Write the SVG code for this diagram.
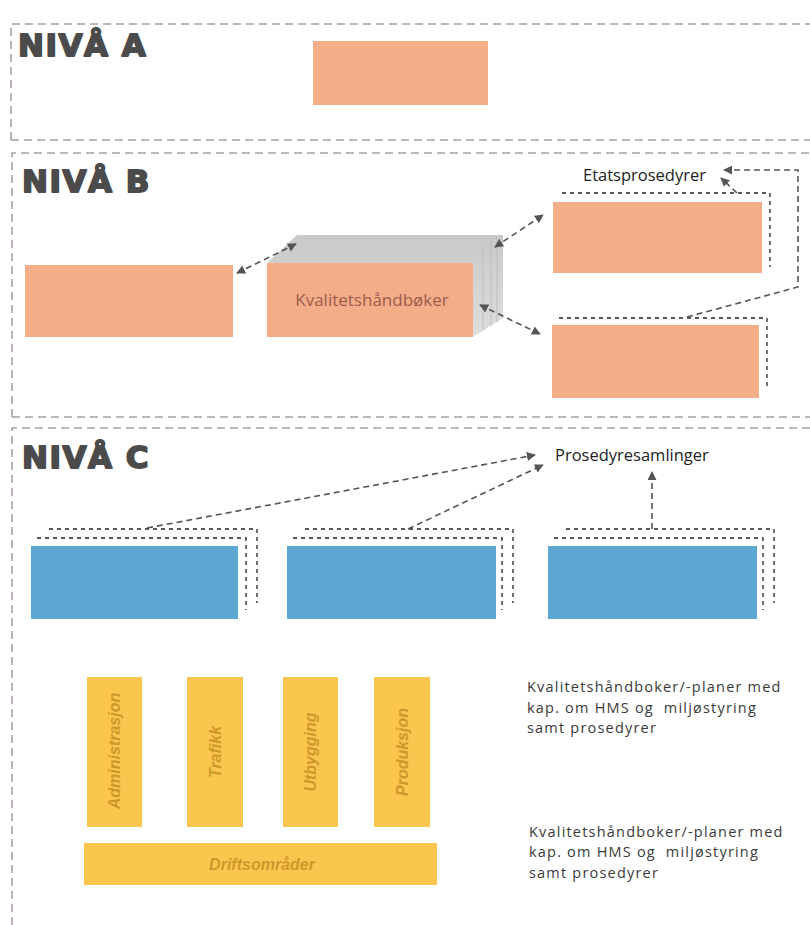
<svg xmlns="http://www.w3.org/2000/svg" width="810" height="925" viewBox="0 0 810 925">
<style>
.panel{fill:none;stroke:#ab9ea1;stroke-width:1.6;stroke-dasharray:8 5}
.lvl{font-family:"DejaVu Sans",sans-serif;font-weight:bold;font-size:31px;letter-spacing:1.5px;fill:#4b4b4b;stroke:#4b4b4b;stroke-width:1.8;stroke-linejoin:round}
.orange{fill:#f4ad89}
.blue{fill:#5da7d3}
.yellow{fill:#fbc64e}
.dot{fill:none;stroke:#222;stroke-width:1.3;stroke-dasharray:4 4}
.con{fill:none;stroke:#555;stroke-width:1.6;stroke-dasharray:6 4}
.lbl{font-family:"Open Sans",sans-serif;fill:#222}
.ytxt{font-family:"Liberation Sans",sans-serif;font-weight:bold;font-style:italic;font-size:16px;fill:#cd982a}
.desc{font-family:"Open Sans",sans-serif;font-size:14.5px;letter-spacing:1.2px;fill:#3a3a3a;white-space:pre}
</style>
<defs>
<marker id="ah" viewBox="0 0 10 10" refX="9" refY="5" markerWidth="9" markerHeight="9" markerUnits="userSpaceOnUse" orient="auto-start-reverse">
<path d="M0,0 L10,5 L0,10 z" fill="#555"/>
</marker>
<linearGradient id="gray" x1="0" y1="0" x2="0" y2="1">
<stop offset="0" stop-color="#c9c9c9"/>
<stop offset="1" stop-color="#dedede"/>
</linearGradient>
</defs>
<rect width="810" height="925" fill="#fff"/>

<g id="panels">
<path class="panel" d="M11,140 L11,24 L810,24"/>
<path class="panel" d="M11,140 L810,140"/>
<path class="panel" d="M12,417 L12,153 L810,153"/>
<path class="panel" d="M12,417 L810,417"/>
<path class="panel" d="M12,925 L12,428 L810,428"/>
</g>

<g id="levelA">
<text class="lvl" x="18" y="56">NIVÅ A</text>
<rect id="boxA" class="orange" x="313" y="41" width="175" height="64"/>
</g>

<g id="levelB">
<text class="lvl" x="22" y="192">NIVÅ B</text>
<g id="boxB-left"><rect class="orange" x="25" y="265" width="208" height="72"/></g>
<g id="kvalitetshandboker">
<polygon points="267,263 297,235 503,235 503,318 473,337" fill="url(#gray)"/>
<line x1="483" y1="245" x2="483" y2="330" stroke="#bdbdbd" stroke-width="1"/>
<line x1="491" y1="240" x2="491" y2="326" stroke="#bdbdbd" stroke-width="1"/>
<line x1="497" y1="237" x2="497" y2="322" stroke="#bdbdbd" stroke-width="1"/>
<rect class="orange" x="267" y="263" width="206" height="74"/>
<text x="372" y="306" text-anchor="middle" font-family="Open Sans, sans-serif" font-size="17" fill="#9c5c4c">Kvalitetshåndbøker</text>
</g>
<g id="etatsprosedyrer-label"><text class="lbl" x="583" y="181" font-size="16.5">Etatsprosedyrer</text></g>
<g id="boxB-top">
<path class="dot" d="M562,193 L770,193 L770,267"/>
<rect class="orange" x="553" y="202" width="209" height="71"/>
</g>
<g id="boxB-bottom">
<path class="dot" d="M559,318 L767,318 L767,390"/>
<rect class="orange" x="552" y="325" width="207" height="73"/>
</g>
</g>

<g id="levelC">
<text class="lvl" x="22" y="468">NIVÅ C</text>
<g id="prosedyresamlinger-label"><text class="lbl" x="555" y="461" font-size="16.5" fill="#444">Prosedyresamlinger</text></g>
<g id="blue1">
<path class="dot" d="M49,529 L257,529 L257,603"/>
<path class="dot" d="M37,538 L246,538 L246,610"/>
<rect class="blue" x="31" y="546" width="207" height="73"/>
</g>
<g id="blue2">
<path class="dot" d="M305,529 L513,529 L513,603"/>
<path class="dot" d="M293,538 L502,538 L502,610"/>
<rect class="blue" x="287" y="546" width="209" height="73"/>
</g>
<g id="blue3">
<path class="dot" d="M566,529 L774,529 L774,603"/>
<path class="dot" d="M554,538 L763,538 L763,610"/>
<rect class="blue" x="548" y="546" width="209" height="73"/>
</g>
<g id="yellow-administrasjon">
<rect class="yellow" x="87" y="677" width="55" height="150"/>
<text class="ytxt" transform="translate(120,751) rotate(-90)" text-anchor="middle">Administrasjon</text>
</g>
<g id="yellow-trafikk">
<rect class="yellow" x="187" y="677" width="56" height="150"/>
<text class="ytxt" transform="translate(221,752) rotate(-90)" text-anchor="middle">Trafikk</text>
</g>
<g id="yellow-utbygging">
<rect class="yellow" x="283" y="677" width="55" height="150"/>
<text class="ytxt" transform="translate(316,752) rotate(-90)" text-anchor="middle">Utbygging</text>
</g>
<g id="yellow-produksjon">
<rect class="yellow" x="374" y="677" width="56" height="150"/>
<text class="ytxt" transform="translate(408,752) rotate(-90)" text-anchor="middle">Produksjon</text>
</g>
<g id="yellow-driftsomrader">
<rect class="yellow" x="84" y="843" width="353" height="42"/>
<text class="ytxt" x="262" y="870" text-anchor="middle" font-size="18">Driftsområder</text>
</g>
<g id="desc1">
<text class="desc" x="527" y="692">Kvalitetshåndboker/-planer med</text>
<text class="desc" x="527" y="713">kap. om HMS og  miljøstyring</text>
<text class="desc" x="527" y="733">samt prosedyrer</text>
</g>
<g id="desc2">
<text class="desc" x="529" y="837" fill="#555">Kvalitetshåndboker/-planer med</text>
<text class="desc" x="529" y="857" fill="#555">kap. om HMS og  miljøstyring</text>
<text class="desc" x="529" y="878" fill="#555">samt prosedyrer</text>
</g>
</g>

<g id="connectors">
<line class="con" x1="237" y1="273" x2="296" y2="244" marker-start="url(#ah)" marker-end="url(#ah)"/>
<line class="con" x1="495" y1="247" x2="543" y2="215" marker-start="url(#ah)" marker-end="url(#ah)"/>
<line class="con" x1="480" y1="305" x2="540" y2="334" marker-start="url(#ah)" marker-end="url(#ah)"/>
<line class="con" x1="737" y1="193" x2="721" y2="178" marker-end="url(#ah)"/>
<polyline class="con" points="687,317 798,287 798,170 724,170" marker-end="url(#ah)"/>
<line class="con" x1="147" y1="528" x2="535" y2="455" marker-end="url(#ah)"/>
<line class="con" x1="408" y1="529" x2="543" y2="465" marker-end="url(#ah)"/>
<line class="con" x1="652" y1="529" x2="652" y2="472" marker-end="url(#ah)"/>
</g>
</svg>
